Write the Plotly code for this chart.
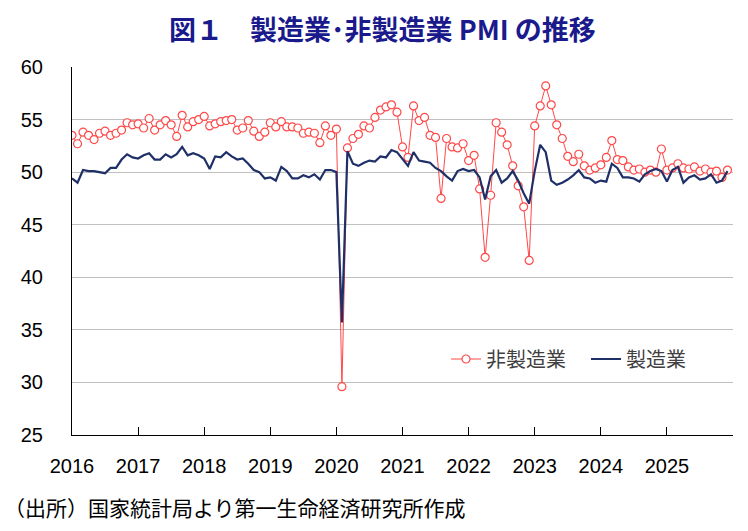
import plotly.graph_objects as go

years = list(range(2016, 2026))
tick_labels = [str(y) for y in years] + [""]

manufacturing = [
    49.4, 49.0, 50.2, 50.1, 50.1, 50.0, 49.9, 50.4, 50.4, 51.2, 51.7, 51.4,
    51.3, 51.6, 51.8, 51.2, 51.2, 51.7, 51.4, 51.7, 52.4, 51.6, 51.8, 51.6,
    51.3, 50.3, 51.5, 51.4, 51.9, 51.5, 51.2, 51.3, 50.8, 50.2, 50.0, 49.4,
    49.5, 49.2, 50.5, 50.1, 49.4, 49.4, 49.7, 49.5, 49.8, 49.3, 50.2, 50.2,
    50.0, 35.7, 52.0, 50.8, 50.6, 50.9, 51.1, 51.0, 51.5, 51.4, 52.1, 51.9,
    51.3, 50.6, 51.9, 51.1, 51.0, 50.9, 50.4, 50.1, 49.6, 49.2, 50.1, 50.3,
    50.1, 50.2, 49.5, 47.4, 49.6, 50.2, 49.0, 49.4, 50.1, 49.2, 48.0, 47.0,
    50.1, 52.6, 51.9, 49.2, 48.8, 49.0, 49.3, 49.7, 50.2, 49.5, 49.4, 49.0,
    49.2, 49.1, 50.8, 50.4, 49.5, 49.5, 49.4, 49.1, 49.8, 50.1, 50.3, 50.1,
    49.1, 50.2, 50.5, 49.0, 49.5, 49.7, 49.3, 49.4, 49.8, 49.0, 49.2, 50.1,
]

non_manufacturing = [
    53.5, 52.7, 53.8, 53.5, 53.1, 53.7, 53.9, 53.5, 53.7, 54.0, 54.7, 54.5,
    54.6, 54.2, 55.1, 54.0, 54.5, 54.9, 54.5, 53.4, 55.4, 54.3, 54.8, 55.0,
    55.3, 54.4, 54.6, 54.8, 54.9, 55.0, 54.0, 54.2, 54.9, 53.9, 53.4, 53.8,
    54.7, 54.3, 54.8, 54.3, 54.3, 54.2, 53.7, 53.8, 53.7, 52.8, 54.4, 53.5,
    54.1, 29.6, 52.3, 53.2, 53.6, 54.4, 54.2, 55.2, 55.9, 56.2, 56.4, 55.7,
    52.4, 51.4, 56.3, 54.9, 55.2, 53.5, 53.3, 47.5, 53.2, 52.4, 52.3, 52.7,
    51.1, 51.6, 48.4, 41.9, 47.8, 54.7, 53.8, 52.6, 50.6, 48.7, 46.7, 41.6,
    54.4, 56.3, 58.2, 56.4, 54.5, 53.2, 51.5, 51.0, 51.7, 50.6, 50.2, 50.4,
    50.7, 51.4, 53.0, 51.2, 51.1, 50.5, 50.2, 50.3, 50.0, 50.2, 50.0, 52.2,
    50.2, 50.4, 50.8, 50.4, 50.3, 50.5, 50.1, 50.3, 50.0, 50.1, 49.5, 50.2,
]

x_vals = [2016 + i / 12 for i in range(len(manufacturing))]

fig = go.Figure()
fig.add_trace(go.Scatter(
    x=x_vals, y=non_manufacturing, mode="lines+markers", name="非製造業",
    line=dict(color="#ff4848", width=1),
    marker=dict(symbol="circle", size=8, color="white",
                line=dict(color="#ff4848", width=1.2)),
))
fig.add_trace(go.Scatter(
    x=x_vals, y=manufacturing, mode="lines", name="製造業",
    line=dict(color="#1f3068", width=2.2),
))

base_font = "Liberation Sans"
cjk = "Noto Sans CJK JP"

fig.update_layout(
    width=748, height=531,
    margin=dict(l=72, r=15, t=67, b=96),
    paper_bgcolor="white", plot_bgcolor="white",
    showlegend=True,
    legend=dict(orientation="h", x=(446 - 72) / 661, y=(435 - 359) / 368,
                xanchor="left", yanchor="middle",
                font=dict(family=cjk, size=20, color="#404040"),
                bgcolor="rgba(0,0,0,0)", itemwidth=30, tracegroupgap=0,
                entrywidth=95, entrywidthmode="pixels"),
    xaxis=dict(range=[2016, 2026], tickvals=list(range(2016, 2027)), ticktext=tick_labels,
               showgrid=False, zeroline=False, showline=True, linecolor="black", linewidth=1,
               ticks="inside", ticklen=8, tickcolor="black",
               tickfont=dict(family=base_font, size=20, color="black"),
               ticklabelstandoff=13),
    yaxis=dict(range=[25, 60], dtick=5, tick0=25,
               showgrid=True, gridcolor="#c0c0c0", gridwidth=1, zeroline=False,
               showline=True, linecolor="black", linewidth=1, ticks="",
               tickfont=dict(family=base_font, size=20, color="black"),
               ticklabelstandoff=24),
    annotations=[
        dict(text="<b>図１　製造業･非製造業 PMI の推移</b>", xref="paper", yref="paper",
             x=(382 - 72) / 661, y=1.0, yshift=39, xanchor="center", yanchor="middle",
             showarrow=False,
             font=dict(family=cjk, size=27, color="#1a1a8c")),
        dict(text="（出所）国家統計局より第一生命経済研究所作成", xref="paper", yref="paper",
             x=-70 / 661, y=0, yshift=-72, xanchor="left", yanchor="middle", showarrow=False,
             font=dict(family=cjk, size=21, color="black")),
    ],
)

fig.write_html("out.html")
